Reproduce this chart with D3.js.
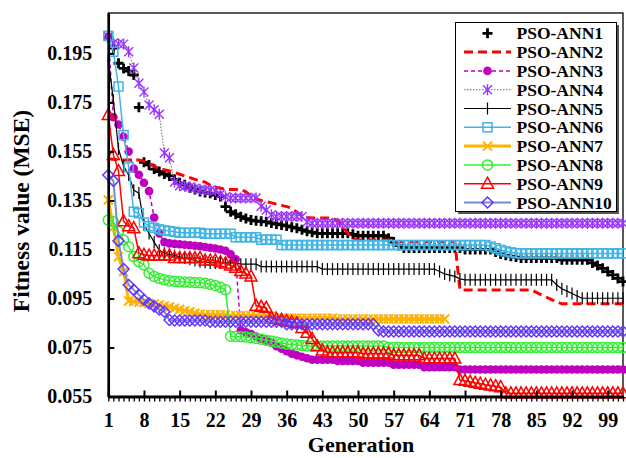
<!DOCTYPE html>
<html>
<head>
<meta charset="utf-8">
<script src="https://cdn.jsdelivr.net/npm/d3@7"></script>
<style>
  body { margin: 0; background: #fff; }
  svg text { font-family: "Liberation Serif", "Times New Roman", Times, serif; font-weight: bold; fill: #000; }
</style>
</head>
<body>
<svg id="chart" width="626" height="458"></svg>
<script>
// fitness (MSE) per generation
var ann1 = [
  0.2013,0.1972,0.1910,0.1889,0.1878,0.1862,0.1730,0.1506,0.1495,0.1478,
  0.1468,0.1458,0.1450,0.1436,0.1422,0.1414,0.1402,0.1395,0.1387,0.1383,
  0.1379,0.1372,0.1366,0.1325,0.1304,0.1294,0.1284,0.1276,0.1270,0.1267,
  0.1265,0.1263,0.1258,0.1254,0.1250,0.1246,0.1241,0.1237,0.1230,0.1224,
  0.1220,0.1216,0.1216,0.1216,0.1216,0.1216,0.1216,0.1216,0.1212,0.1206,
  0.1206,0.1206,0.1206,0.1206,0.1206,0.1196,0.1180,0.1166,0.1156,0.1156,
  0.1156,0.1156,0.1156,0.1156,0.1156,0.1156,0.1156,0.1156,0.1156,0.1156,
  0.1150,0.1150,0.1150,0.1150,0.1150,0.1150,0.1140,0.1132,0.1126,0.1122,
  0.1119,0.1115,0.1115,0.1115,0.1115,0.1115,0.1115,0.1115,0.1115,0.1108,
  0.1108,0.1108,0.1108,0.1108,0.1108,0.1095,0.1085,0.1073,0.1060,0.1046,
  0.1032,0.1019
];
var ann2 = [
  0.1520,0.1518,0.1516,0.1515,0.1515,0.1515,0.1515,0.1510,0.1500,0.1490,
  0.1480,0.1475,0.1470,0.1465,0.1457,0.1450,0.1443,0.1436,0.1430,0.1425,
  0.1412,0.1404,0.1400,0.1395,0.1395,0.1395,0.1395,0.1385,0.1368,0.1356,
  0.1350,0.1345,0.1340,0.1335,0.1330,0.1325,0.1318,0.1302,0.1288,0.1281,
  0.1278,0.1278,0.1278,0.1278,0.1278,0.1266,0.1242,0.1216,0.1196,0.1189,
  0.1189,0.1189,0.1189,0.1189,0.1189,0.1189,0.1182,0.1182,0.1182,0.1182,
  0.1182,0.1182,0.1182,0.1182,0.1182,0.1182,0.1182,0.1182,0.1182,0.0985,
  0.0985,0.0985,0.0985,0.0985,0.0985,0.0985,0.0985,0.0985,0.0985,0.0985,
  0.0985,0.0985,0.0985,0.0985,0.0975,0.0965,0.0955,0.0945,0.0936,0.0928,
  0.0928,0.0928,0.0928,0.0928,0.0928,0.0928,0.0928,0.0928,0.0928,0.0928,
  0.0928,0.0928
];
var ann3 = [
  0.2019,0.1690,0.1660,0.1610,0.1550,0.1480,0.1455,0.1422,0.1388,0.1280,
  0.1215,0.1180,0.1175,0.1173,0.1171,0.1169,0.1167,0.1165,0.1163,0.1160,
  0.1157,0.1154,0.1150,0.1145,0.1130,0.1110,0.0820,0.0812,0.0805,0.0795,
  0.0785,0.0778,0.0770,0.0755,0.0745,0.0735,0.0725,0.0718,0.0712,0.0706,
  0.0700,0.0700,0.0700,0.0700,0.0700,0.0695,0.0695,0.0695,0.0695,0.0695,
  0.0688,0.0688,0.0688,0.0688,0.0688,0.0688,0.0680,0.0680,0.0680,0.0680,
  0.0680,0.0680,0.0670,0.0670,0.0670,0.0670,0.0670,0.0670,0.0670,0.0660,
  0.0660,0.0660,0.0660,0.0660,0.0660,0.0660,0.0660,0.0660,0.0660,0.0660,
  0.0660,0.0660,0.0660,0.0660,0.0660,0.0660,0.0660,0.0660,0.0660,0.0660,
  0.0660,0.0660,0.0660,0.0660,0.0660,0.0660,0.0660,0.0660,0.0660,0.0660,
  0.0660,0.0660
];
var ann4 = [
  0.2019,0.1993,0.1989,0.1988,0.1957,0.1891,0.1828,0.1793,0.1740,0.1720,
  0.1702,0.1544,0.1524,0.1425,0.1410,0.1408,0.1405,0.1400,0.1395,0.1393,
  0.1392,0.1390,0.1375,0.1365,0.1360,0.1360,0.1360,0.1360,0.1360,0.1360,
  0.1326,0.1311,0.1292,0.1285,0.1285,0.1285,0.1285,0.1285,0.1285,0.1262,
  0.1257,0.1257,0.1257,0.1257,0.1257,0.1257,0.1257,0.1257,0.1257,0.1257,
  0.1257,0.1257,0.1257,0.1257,0.1257,0.1257,0.1257,0.1257,0.1257,0.1257,
  0.1257,0.1257,0.1257,0.1257,0.1257,0.1257,0.1257,0.1257,0.1257,0.1257,
  0.1257,0.1257,0.1257,0.1257,0.1257,0.1257,0.1257,0.1257,0.1257,0.1257,
  0.1257,0.1257,0.1257,0.1257,0.1257,0.1257,0.1257,0.1257,0.1257,0.1257,
  0.1257,0.1257,0.1257,0.1257,0.1257,0.1257,0.1257,0.1257,0.1257,0.1257,
  0.1257,0.1257
];
var ann5 = [
  0.1923,0.1760,0.1560,0.1490,0.1454,0.1392,0.1380,0.1250,0.1215,0.1180,
  0.1147,0.1135,0.1130,0.1125,0.1120,0.1115,0.1110,0.1105,0.1100,0.1098,
  0.1095,0.1095,0.1095,0.1095,0.1095,0.1095,0.1090,0.1090,0.1090,0.1090,
  0.1080,0.1080,0.1080,0.1080,0.1080,0.1080,0.1080,0.1080,0.1080,0.1080,
  0.1080,0.1080,0.1070,0.1070,0.1070,0.1070,0.1070,0.1070,0.1070,0.1070,
  0.1070,0.1070,0.1070,0.1070,0.1070,0.1070,0.1070,0.1070,0.1070,0.1070,
  0.1070,0.1070,0.1070,0.1070,0.1070,0.1060,0.1050,0.1045,0.1040,0.1030,
  0.1026,0.1026,0.1026,0.1026,0.1026,0.1026,0.1026,0.1026,0.1026,0.1026,
  0.1026,0.1026,0.1026,0.1026,0.1026,0.1026,0.1026,0.1026,0.1005,0.0990,
  0.0980,0.0970,0.0960,0.0951,0.0951,0.0951,0.0951,0.0951,0.0951,0.0951,
  0.0951,0.0951
];
var ann6 = [
  0.2022,0.1957,0.1815,0.1617,0.1485,0.1304,0.1298,0.1260,0.1245,0.1238,
  0.1232,0.1228,0.1225,0.1222,0.1218,0.1218,0.1218,0.1218,0.1218,0.1214,
  0.1214,0.1214,0.1214,0.1214,0.1214,0.1200,0.1200,0.1200,0.1200,0.1200,
  0.1190,0.1190,0.1190,0.1190,0.1168,0.1168,0.1168,0.1168,0.1168,0.1168,
  0.1168,0.1168,0.1168,0.1168,0.1168,0.1168,0.1168,0.1168,0.1168,0.1168,
  0.1168,0.1168,0.1168,0.1168,0.1168,0.1168,0.1168,0.1168,0.1168,0.1168,
  0.1168,0.1168,0.1168,0.1168,0.1168,0.1168,0.1168,0.1168,0.1168,0.1168,
  0.1168,0.1168,0.1168,0.1168,0.1168,0.1162,0.1155,0.1148,0.1142,0.1138,
  0.1135,0.1134,0.1134,0.1134,0.1134,0.1134,0.1134,0.1134,0.1134,0.1134,
  0.1134,0.1134,0.1134,0.1134,0.1134,0.1134,0.1134,0.1134,0.1134,0.1134,
  0.1134,0.1134
];
// ANN7 stops at generation 67
var ann7 = [
  0.1352,0.1240,0.1120,0.1060,0.0940,0.0937,0.0935,0.0933,0.0930,0.0927,
  0.0924,0.0920,0.0915,0.0910,0.0905,0.0900,0.0896,0.0890,0.0886,0.0884,
  0.0884,0.0884,0.0884,0.0884,0.0880,0.0880,0.0880,0.0880,0.0880,0.0880,
  0.0880,0.0880,0.0880,0.0870,0.0870,0.0870,0.0870,0.0870,0.0870,0.0870,
  0.0870,0.0870,0.0870,0.0870,0.0870,0.0866,0.0866,0.0866,0.0866,0.0866,
  0.0866,0.0866,0.0866,0.0866,0.0866,0.0866,0.0866,0.0866,0.0866,0.0866,
  0.0866,0.0866,0.0866,0.0866,0.0866,0.0866,0.0866
];
var ann8 = [
  0.1270,0.1263,0.1223,0.1189,0.1161,0.1121,0.1100,0.1087,0.1053,0.1040,
  0.1032,0.1026,0.1022,0.1020,0.1018,0.1017,0.1016,0.1015,0.1014,0.1012,
  0.1008,0.1003,0.0996,0.0986,0.0796,0.0795,0.0794,0.0793,0.0790,0.0787,
  0.0784,0.0780,0.0776,0.0772,0.0768,0.0764,0.0762,0.0760,0.0758,0.0756,
  0.0756,0.0756,0.0756,0.0756,0.0756,0.0756,0.0756,0.0756,0.0756,0.0756,
  0.0756,0.0756,0.0756,0.0756,0.0756,0.0750,0.0750,0.0750,0.0750,0.0750,
  0.0750,0.0750,0.0750,0.0750,0.0750,0.0750,0.0750,0.0750,0.0750,0.0750,
  0.0750,0.0750,0.0750,0.0750,0.0750,0.0750,0.0750,0.0750,0.0750,0.0750,
  0.0750,0.0750,0.0750,0.0750,0.0750,0.0750,0.0750,0.0750,0.0750,0.0750,
  0.0750,0.0750,0.0750,0.0750,0.0750,0.0750,0.0750,0.0750,0.0750,0.0750,
  0.0750,0.0750
];
var ann9 = [
  0.1699,0.1536,0.1470,0.1265,0.1245,0.1237,0.1135,0.1128,0.1125,0.1125,
  0.1125,0.1125,0.1125,0.1115,0.1115,0.1115,0.1115,0.1115,0.1115,0.1105,
  0.1105,0.1105,0.1098,0.1093,0.1085,0.1075,0.1062,0.1052,0.1040,0.0920,
  0.0916,0.0912,0.0870,0.0866,0.0862,0.0858,0.0854,0.0850,0.0830,0.0810,
  0.0785,0.0755,0.0738,0.0730,0.0730,0.0730,0.0730,0.0730,0.0730,0.0730,
  0.0725,0.0725,0.0725,0.0725,0.0725,0.0725,0.0718,0.0718,0.0718,0.0718,
  0.0718,0.0718,0.0705,0.0705,0.0705,0.0705,0.0705,0.0705,0.0705,0.0617,
  0.0614,0.0610,0.0606,0.0602,0.0598,0.0595,0.0592,0.0588,0.0563,0.0563,
  0.0563,0.0563,0.0563,0.0563,0.0563,0.0563,0.0563,0.0563,0.0563,0.0563,
  0.0563,0.0563,0.0563,0.0563,0.0563,0.0563,0.0563,0.0563,0.0563,0.0563,
  0.0563,0.0563
];
var ann10 = [
  0.1454,0.1430,0.1185,0.1070,0.1005,0.0985,0.0965,0.0945,0.0930,0.0918,
  0.0905,0.0896,0.0862,0.0860,0.0860,0.0860,0.0860,0.0860,0.0860,0.0860,
  0.0855,0.0855,0.0855,0.0855,0.0855,0.0855,0.0855,0.0855,0.0855,0.0855,
  0.0855,0.0855,0.0855,0.0855,0.0855,0.0845,0.0845,0.0845,0.0845,0.0845,
  0.0845,0.0845,0.0845,0.0845,0.0845,0.0845,0.0845,0.0845,0.0845,0.0845,
  0.0845,0.0845,0.0845,0.0820,0.0815,0.0815,0.0815,0.0815,0.0815,0.0815,
  0.0815,0.0815,0.0815,0.0815,0.0815,0.0815,0.0815,0.0815,0.0815,0.0815,
  0.0815,0.0815,0.0815,0.0815,0.0815,0.0815,0.0815,0.0815,0.0815,0.0815,
  0.0815,0.0815,0.0815,0.0815,0.0815,0.0815,0.0815,0.0815,0.0815,0.0815,
  0.0815,0.0815,0.0815,0.0815,0.0815,0.0815,0.0815,0.0815,0.0815,0.0815,
  0.0815,0.0815
];

var seriesNames = ["PSO-ANN1", "PSO-ANN2", "PSO-ANN3", "PSO-ANN4", "PSO-ANN5",
                   "PSO-ANN6", "PSO-ANN7", "PSO-ANN8", "PSO-ANN9", "PSO-ANN10"];
var xTickLabels = [1, 8, 15, 22, 29, 36, 43, 50, 57, 64, 71, 78, 85, 92, 99];
var yTickLabels = [0.055, 0.075, 0.095, 0.115, 0.135, 0.155, 0.175, 0.195];

var serif = "'Liberation Serif', 'Times New Roman', Times, serif";

// line / marker look for each series
var styles = [
  { line: null, marker: "plus", mcolor: "#000" },
  { line: "#ff0000", lw: 3, dash: "9,5", marker: null },
  { line: "#c000c0", lw: 1.5, dash: "4,3", marker: "dot", mcolor: "#c000c0" },
  { line: "#6e6e6e", lw: 1, dash: "1.5,1.5", marker: "asterisk", mcolor: "#9933ff" },
  { line: "#000", lw: 1.2, marker: "vbar", mcolor: "#000" },
  { line: "#3fb4e6", lw: 1.5, marker: "square", mcolor: "#3fb4e6" },
  { line: "#ffb300", lw: 3, marker: "cross", mcolor: "#ffb300" },
  { line: "#33ee33", lw: 1.5, marker: "circle", mcolor: "#33ee33" },
  { line: "#ff0000", lw: 1.5, marker: "triangle", mcolor: "#ff0000" },
  { line: "#6f8fd0", lw: 2, marker: "diamond", mcolor: "#6633ff" }
];

var allData = [ann1, ann2, ann3, ann4, ann5, ann6, ann7, ann8, ann9, ann10];

var svg = d3.select("#chart");

var x = d3.scaleLinear().domain([1, 102]).range([108.3, 623]);
var y = d3.scaleLinear().domain([0.055, 0.2115]).range([396.5, 13]);

// plot frame (top and right sides)
svg.append("rect")
    .attr("x", x(1)).attr("y", y(0.2115))
    .attr("width", x(102) - x(1)).attr("height", y(0.055) - y(0.2115))
    .attr("fill", "none").attr("stroke", "#000").attr("stroke-width", 1.3);

function drawMarker(g, type, color) {
  if (type == "plus") {
    g.append("path").attr("d", "M-5,0H5M0,-5V5")
        .attr("stroke", color).attr("stroke-width", 2.8).attr("fill", "none");
  } else if (type == "dot") {
    g.append("circle").attr("r", 4.3).attr("fill", color);
  } else if (type == "asterisk") {
    g.append("path").attr("d", "M-4.5,-4.5L4.5,4.5M-4.5,4.5L4.5,-4.5M0,-5.5V5.5")
        .attr("stroke", color).attr("stroke-width", 1.4).attr("fill", "none");
  } else if (type == "vbar") {
    g.append("path").attr("d", "M0,-6V6")
        .attr("stroke", color).attr("stroke-width", 1.2).attr("fill", "none");
  } else if (type == "square") {
    g.append("rect").attr("x", -4.5).attr("y", -4.5).attr("width", 9).attr("height", 9)
        .attr("stroke", color).attr("stroke-width", 1.5).attr("fill", "none");
  } else if (type == "cross") {
    g.append("path").attr("d", "M-4.5,-4.5L4.5,4.5M-4.5,4.5L4.5,-4.5")
        .attr("stroke", color).attr("stroke-width", 2).attr("fill", "none");
  } else if (type == "circle") {
    g.append("circle").attr("r", 5)
        .attr("stroke", color).attr("stroke-width", 1.5).attr("fill", "none");
  } else if (type == "triangle") {
    g.append("path").attr("d", "M0,-6.5L6,4.5H-6Z")
        .attr("stroke", color).attr("stroke-width", 1.5).attr("fill", "none");
  } else if (type == "diamond") {
    g.append("path").attr("d", "M0,-5.5L5.5,0L0,5.5L-5.5,0Z")
        .attr("stroke", color).attr("stroke-width", 1.5).attr("fill", "none");
  }
}

var line = d3.line()
    .x(function(d, i) { return x(i + 1); })
    .y(function(d) { return y(d); });

var plot = svg.append("g").attr("class", "series");

for (var s = 0; s < allData.length; s++) {
  var st = styles[s];
  var data = allData[s];
  if (st.line) {
    plot.append("path")
        .datum(data)
        .attr("d", line)
        .attr("fill", "none")
        .attr("stroke", st.line)
        .attr("stroke-width", st.lw)
        .attr("stroke-dasharray", st.dash || null);
  }
  if (st.marker) {
    var marks = plot.append("g").selectAll("g")
        .data(data)
        .enter().append("g")
        .attr("transform", function(d, i) { return "translate(" + x(i + 1) + "," + y(d) + ")"; });
    marks.each(function() { drawMarker(d3.select(this), st.marker, st.mcolor); });
  }
}

// axes
var yAxis = d3.axisLeft(y)
    .tickValues(yTickLabels)
    .tickSize(-6).tickSizeOuter(0).tickPadding(16)
    .tickFormat(d3.format(".3f"));
var gy = svg.append("g").attr("transform", "translate(" + x(1) + ",0)").call(yAxis);

var xAxis = d3.axisBottom(x)
    .tickValues(xTickLabels)
    .tickSize(-6).tickSizeOuter(0).tickPadding(16);
var gx = svg.append("g").attr("transform", "translate(0," + y(0.055) + ")").call(xAxis);

var xMinor = d3.axisBottom(x)
    .tickValues(d3.range(1, 103))
    .tickSize(5).tickSizeOuter(0).tickFormat("");
var gm = svg.append("g").attr("transform", "translate(0," + y(0.055) + ")").call(xMinor);

[gy, gx, gm].forEach(function(g) {
  g.attr("font-family", serif).attr("font-size", 20);
  g.select(".domain").attr("stroke", "#000").attr("stroke-width", 2.5);
  g.selectAll(".tick line").attr("stroke", "#000").attr("stroke-width", 2);
  g.selectAll(".tick text")
      .attr("font-family", serif)
      .attr("font-weight", "bold")
      .style("font-size", "20px");
});
gm.selectAll(".tick line").attr("stroke-width", 1.3);

svg.append("text")
    .attr("x", 361).attr("y", 452)
    .attr("text-anchor", "middle")
    .attr("font-family", serif)
    .style("font-size", "22px")
    .text("Generation");

svg.append("text")
    .attr("transform", "translate(29,211) rotate(-90)")
    .attr("text-anchor", "middle")
    .attr("font-family", serif)
    .style("font-size", "23.5px")
    .text("Fitness value (MSE)");

// legend
var legend = svg.append("g").attr("class", "legend");
legend.append("rect")
    .attr("x", 458).attr("y", 25).attr("width", 161).attr("height", 189)
    .attr("fill", "#555");
legend.append("rect")
    .attr("x", 455.5).attr("y", 22.5).attr("width", 161).attr("height", 189)
    .attr("fill", "#fff").attr("stroke", "#000").attr("stroke-width", 1);

for (var k = 0; k < seriesNames.length; k++) {
  var ly = 33.3 + k * 18.8;
  var st2 = styles[k];
  if (st2.line) {
    legend.append("line")
        .attr("x1", 464).attr("x2", 511).attr("y1", ly).attr("y2", ly)
        .attr("stroke", st2.line).attr("stroke-width", st2.lw)
        .attr("stroke-dasharray", st2.dash || null);
  }
  if (st2.marker) {
    var mg = legend.append("g").attr("transform", "translate(487.5," + ly + ")");
    drawMarker(mg, st2.marker, st2.mcolor);
  }
  legend.append("text")
      .attr("x", 516.5).attr("y", ly + 6)
      .attr("font-family", serif)
      .style("font-size", "17.5px")
      .text(seriesNames[k]);
}
</script>
</body>
</html>
